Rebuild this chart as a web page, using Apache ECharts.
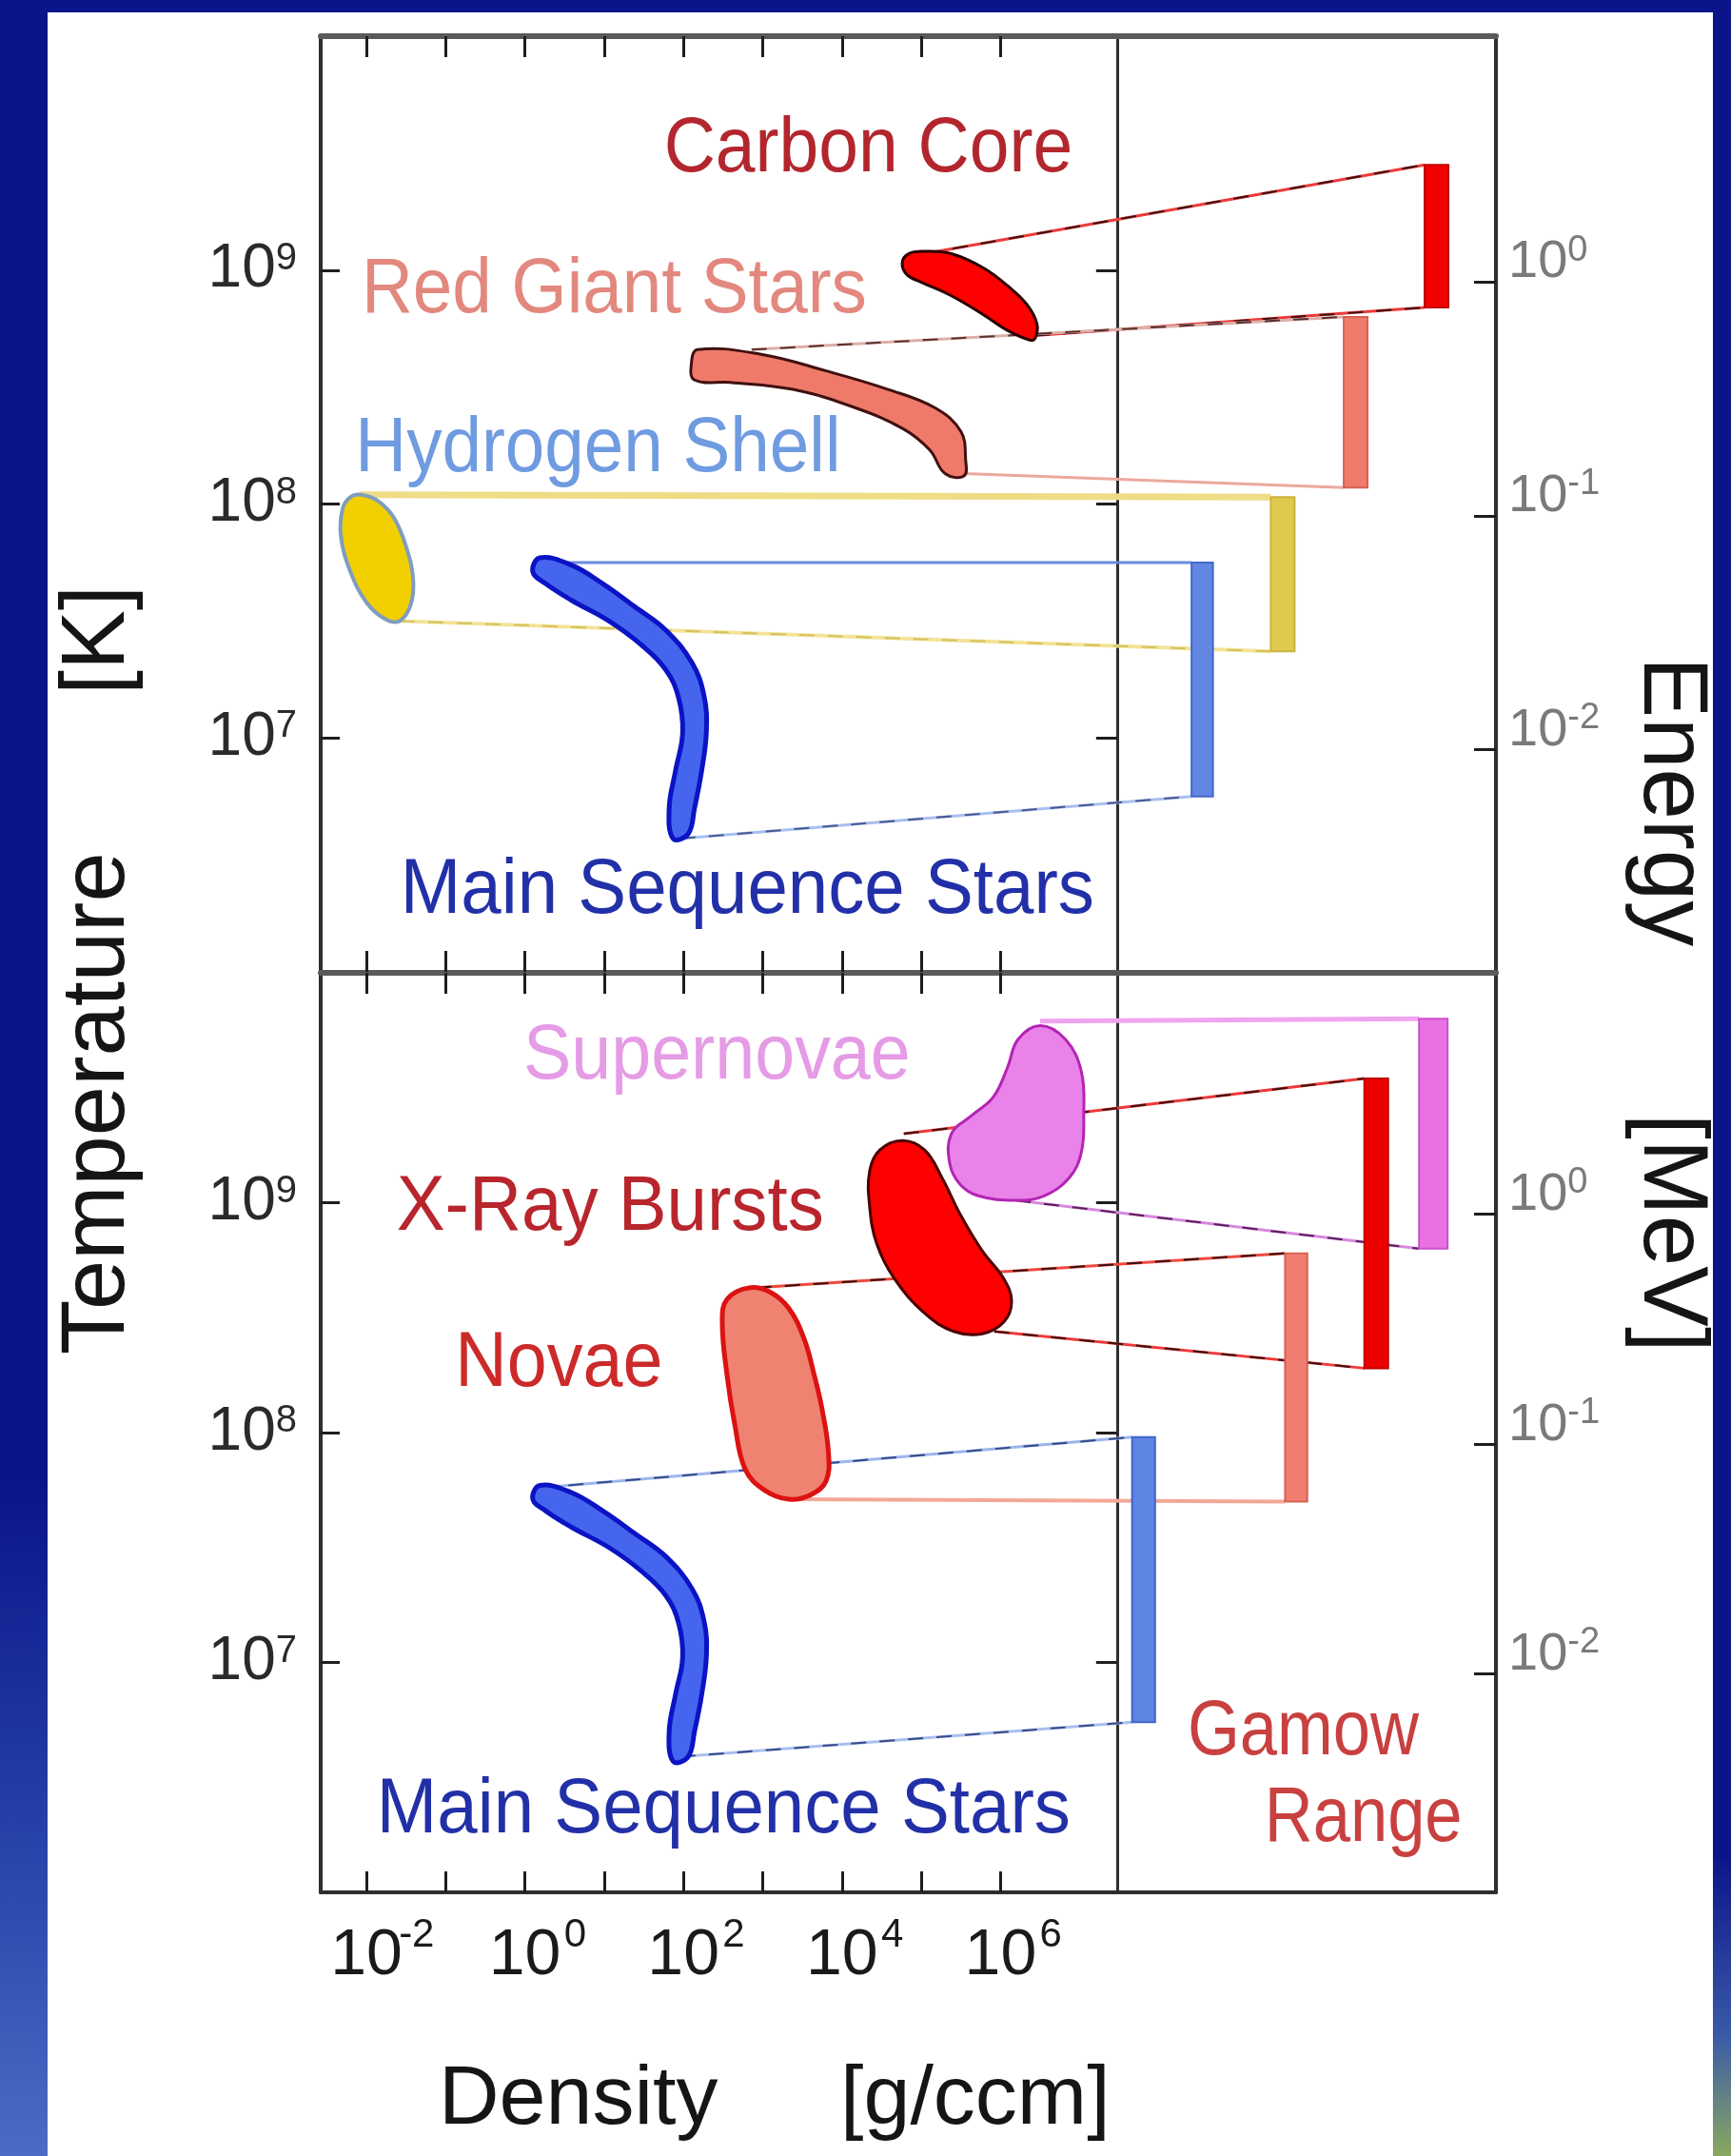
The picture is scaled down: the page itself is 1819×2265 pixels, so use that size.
<!DOCTYPE html>
<html>
<head>
<meta charset="utf-8">
<title>Stellar burning regimes and Gamow ranges</title>
<script src="https://cdn.jsdelivr.net/npm/echarts@6.0.0/dist/echarts.min.js"></script>
<style>
  html, body { margin: 0; padding: 0; background: #0b1589; }
  #chart { width: 1819px; height: 2265px; }
</style>
</head>
<body>
<div id="chart"></div>
<script>
// ---------- axes (every value is log10) ----------
const densityTicks = [-2, -1, 0, 1, 2, 3, 4, 5, 6];          // g/ccm
const densityTickLabels = [-2, 0, 2, 4, 6];
const temperatureTicks = [7, 8, 9];                          // K
const energyTicks = [-2, -1, 0];                             // MeV
const densityRange = [-2.576, 12.25];
const temperatureRange = [6, 10];
const energyRange = [-2.95, 1.05];
const gamowPanelStart = 7.47;                                // density value where the Gamow panel begins

// ---------- burning regions: [log density, log temperature] ----------
const carbonCore = [[4.76,9.03],[4.84,9.07],[5.06,9.08],[5.38,9.07],[5.78,9.01],[6.10,8.93],[6.34,8.85],[6.46,8.77],[6.44,8.71],[6.38,8.70],[6.10,8.74],[5.78,8.81],[5.38,8.89],[4.99,8.95],[4.82,8.98]];
const redGiantStars = [[2.18,8.66],[2.98,8.64],[3.79,8.57],[4.58,8.49],[5.18,8.41],[5.50,8.31],[5.56,8.19],[5.54,8.12],[5.30,8.13],[5.11,8.23],[4.78,8.32],[4.18,8.41],[3.38,8.49],[2.59,8.52],[2.14,8.53],[2.10,8.60]];
const hydrogenShell = [[-2.06,8.04],[-1.84,8.01],[-1.65,7.94],[-1.50,7.82],[-1.41,7.68],[-1.44,7.57],[-1.58,7.50],[-1.77,7.51],[-2.00,7.58],[-2.20,7.71],[-2.32,7.86],[-2.30,7.98],[-2.20,8.03]];
const mainSequenceStars = [[0.19,7.77],[0.58,7.74],[0.98,7.66],[1.39,7.56],[1.78,7.46],[2.11,7.32],[2.26,7.18],[2.29,7.03],[2.23,6.86],[2.14,6.70],[2.06,6.59],[1.87,6.57],[1.82,6.70],[1.90,6.86],[1.99,7.02],[1.94,7.17],[1.78,7.29],[1.46,7.40],[1.06,7.50],[0.58,7.59],[0.26,7.66],[0.10,7.71]];
const supernovae = [[6.50,9.77],[6.82,9.71],[7.02,9.57],[7.05,9.38],[7.02,9.22],[6.87,9.11],[6.55,9.03],[6.19,9.01],[5.72,9.03],[5.49,9.08],[5.36,9.17],[5.38,9.30],[5.64,9.38],[5.91,9.46],[6.09,9.59],[6.22,9.71]];
const xRayBursts = [[4.76,9.27],[5.04,9.23],[5.26,9.11],[5.49,8.95],[5.77,8.79],[6.04,8.67],[6.14,8.57],[6.04,8.48],[5.77,8.43],[5.41,8.44],[5.04,8.52],[4.66,8.67],[4.44,8.82],[4.35,8.98],[4.35,9.14],[4.48,9.23]];
const novae = [[2.83,8.63],[3.10,8.61],[3.33,8.54],[3.52,8.41],[3.65,8.25],[3.75,8.10],[3.83,7.91],[3.80,7.79],[3.61,7.73],[3.33,7.71],[3.02,7.75],[2.78,7.84],[2.65,8.03],[2.55,8.25],[2.49,8.48],[2.55,8.58]];

// ---------- Gamow ranges: [column start, column end, log E low, log E high] ----------
const gamowCarbonCore = [11.35, 11.65, -0.11, 0.50];
const gamowRedGiant = [10.33, 10.63, -0.88, -0.15];
const gamowHydrogenShell = [9.41, 9.71, -1.58, -0.92];
const gamowMainSequenceUpper = [8.41, 8.68, -2.20, -1.20];
const gamowSupernovae = [11.28, 11.64, -0.15, 0.85];
const gamowXRayBursts = [10.59, 10.89, -0.67, 0.59];
const gamowNovae = [9.59, 9.87, -1.25, -0.17];
const gamowMainSequenceLower = [7.66, 7.95, -2.21, -0.97];

// ---------- guide lines: region points [upper, lower] joined to the top and bottom of each Gamow range ----------
const carbonCoreLinks = [[5.04, 9.07], [6.43, 8.72]];
const redGiantLinks = [[2.86, 8.66], [5.54, 8.13]];
const hydrogenShellLinks = [[-2.08, 8.04], [-1.58, 7.50]];
const mainSequenceUpperLinks = [[0.19, 7.75], [1.96, 6.57]];
const supernovaeLinks = [[6.50, 9.79], [6.19, 9.01]];
const xRayBurstLinks = [[4.78, 9.30], [5.92, 8.44]];
const novaeLinks = [[2.92, 8.63], [3.33, 7.71]];
const mainSequenceLowerLinks = [[0.19, 7.76], [1.96, 6.59]];

// ---------- annotations ----------
const upperNames = ['Carbon Core', 'Red Giant Stars', 'Hydrogen Shell', 'Main Sequence Stars'];
const upperNameAnchors = [[6.91, 9.40], [-2.06, 8.80], [-2.14, 8.12], [-1.57, 6.23]];
const lowerNames = ['Supernovae', 'X-Ray Bursts', 'Novae', 'Main Sequence Stars', 'Gamow', 'Range'];
const lowerNameAnchors = [[-0.02, 9.52], [-1.62, 8.86], [-0.88, 8.18], [-1.87, 6.24], [8.36, 6.58], [9.33, 6.20]];

// log T and log E share one vertical scale, shifted by a constant
const ENERGY_SHIFT = temperatureRange[0] - energyRange[0];

const FONT = '"Liberation Sans", Arial, Helvetica, sans-serif';

const grids = [
  { left: 337, top: 38, width: 1235, height: 983 },
  { left: 337, top: 1022, width: 1235, height: 966 }
];

const frameLine = { color: '#2e2e2e', width: 4 };
const tickLine = { color: '#1e1e1e', width: 3 };

// ---------- x axes: bottom + top edge of each panel ----------
const xAxes = [];
[0, 1].forEach(g => {
  ['bottom', 'top'].forEach(pos => {
    const labelled = g === 1 && pos === 'bottom';
    xAxes.push({
      type: 'value', gridIndex: g, position: pos,
      min: densityRange[0], max: densityRange[1],
      axisLine: { show: true, onZero: false, lineStyle: pos === 'top' ? { color: '#5a5a5a', width: 6 } : frameLine },
      axisTick: { show: true, inside: true, length: 22, customValues: densityTicks, lineStyle: tickLine },
      axisLabel: labelled ? {
        show: true, customValues: densityTickLabels, margin: 24,
        formatter: v => '{p|}{b|10}{s|' + v + '}',
        rich: {
          p: { width: 30 },
          b: { fontFamily: FONT, fontSize: 68, color: '#1a1a1a', lineHeight: 60, padding: [26, 0, 0, 0] },
          s: { fontFamily: FONT, fontSize: 42, color: '#1a1a1a', lineHeight: 40, verticalAlign: 'top', width: 30, align: 'left' }
        }
      } : { show: false },
      splitLine: { show: false }
    });
  });
});

// ---------- y axes: temperature (left), energy (right), density/Gamow divider ----------
const dividerOffset = grids[0].width * (densityRange[1] - gamowPanelStart) / (densityRange[1] - densityRange[0]);
const yAxes = [];
[0, 1].forEach(g => {
  yAxes.push({
    type: 'value', gridIndex: g, position: 'left',
    min: temperatureRange[0], max: temperatureRange[1],
    axisLine: { show: true, onZero: false, lineStyle: frameLine },
    axisTick: { show: true, inside: true, length: 20, customValues: temperatureTicks, lineStyle: tickLine },
    axisLabel: {
      show: true, customValues: temperatureTicks, margin: 25,
      formatter: v => '{b|10}{s|' + v + '}',
      rich: {
        b: { fontFamily: FONT, fontSize: 64, color: '#2a2a2a', lineHeight: 64, padding: [18, 0, 18, 0] },
        s: { fontFamily: FONT, fontSize: 40, color: '#2a2a2a', lineHeight: 40, verticalAlign: 'top' }
      }
    },
    splitLine: { show: false }
  });
  yAxes.push({
    type: 'value', gridIndex: g, position: 'right',
    min: energyRange[0], max: energyRange[1],
    axisLine: { show: true, onZero: false, lineStyle: frameLine },
    axisTick: { show: true, inside: true, length: 23, customValues: energyTicks, lineStyle: tickLine },
    axisLabel: {
      show: true, customValues: energyTicks, margin: 13, padding: [0, 0, 40, 0],
      formatter: v => '{b|10}{s|' + v + '}',
      rich: {
        b: { fontFamily: FONT, fontSize: 56, color: '#7a7a7a', lineHeight: 64, padding: [18, 0, 18, 0] },
        s: { fontFamily: FONT, fontSize: 38, color: '#7a7a7a', lineHeight: 40, verticalAlign: 'top' }
      }
    },
    splitLine: { show: false }
  });
  yAxes.push({
    type: 'value', gridIndex: g, position: 'right', offset: -dividerOffset,
    min: temperatureRange[0], max: temperatureRange[1],
    axisLine: { show: true, onZero: false, lineStyle: { color: '#2e2e2e', width: 3 } },
    axisTick: { show: true, inside: true, length: 22, customValues: temperatureTicks, lineStyle: tickLine },
    axisLabel: { show: false },
    splitLine: { show: false }
  });
});

// ---------- series builders ----------
function regionSeries(points, g, fill, stroke, lineWidth) {
  return {
    type: 'custom', xAxisIndex: g * 2, yAxisIndex: g * 3, data: points, silent: true, clip: false, z: 4,
    renderItem(params, api) {
      if (params.dataIndex !== 0) return null;
      const pts = points.map(p => api.coord(p));
      return { type: 'polygon', shape: { points: pts, smooth: 0.4 }, style: { fill, stroke, lineWidth } };
    }
  };
}

function gamowSeries(range, g, fill, edge) {
  return {
    type: 'custom', xAxisIndex: g * 2, yAxisIndex: g * 3 + 1, data: [range], silent: true, clip: false, z: 3,
    encode: { x: [0, 1], y: [2, 3] },
    renderItem(params, api) {
      const a = api.coord([api.value(0), api.value(3)]);
      const b = api.coord([api.value(1), api.value(2)]);
      return {
        type: 'rect',
        shape: { x: a[0], y: a[1], width: b[0] - a[0], height: b[1] - a[1] },
        style: { fill, stroke: edge, lineWidth: 2 }
      };
    }
  };
}

// each link style: [base colour, base width, dash colour or null]
function linkSeries(starts, range, g, styles) {
  const rows = starts.map((s, i) => [s[0], s[1], range[0], i === 0 ? range[3] : range[2]]);
  return {
    type: 'custom', xAxisIndex: g * 2, yAxisIndex: g * 3, data: rows, silent: true, clip: false, z: 2,
    encode: { x: [0, 2], y: [1] },
    renderItem(params, api) {
      const a = api.coord([api.value(0), api.value(1)]);
      const b = api.coord([api.value(2), api.value(3) + ENERGY_SHIFT]);
      const st = styles[params.dataIndex];
      const children = [{
        type: 'line', shape: { x1: a[0], y1: a[1], x2: b[0], y2: b[1] },
        style: { stroke: st[0], lineWidth: st[1] }
      }];
      if (st[2]) {
        children.push({
          type: 'line', shape: { x1: a[0], y1: a[1], x2: b[0], y2: b[1] },
          style: { stroke: st[2], lineWidth: 2, lineDash: [16, 14] }
        });
      }
      return { type: 'group', children };
    }
  };
}

// each label style: [colour, align, horizontal scale]
function nameSeries(names, anchors, g, styles, fontSize) {
  return {
    type: 'custom', xAxisIndex: g * 2, yAxisIndex: g * 3, data: anchors, silent: true, clip: false, z: 6,
    renderItem(params, api) {
      const p = api.coord([api.value(0), api.value(1)]);
      const st = styles[params.dataIndex];
      return {
        type: 'text', x: p[0], y: p[1] - 0.34 * fontSize, scaleX: st[2],
        style: {
          text: names[params.dataIndex], fill: st[0], align: st[1], verticalAlign: 'middle',
          font: fontSize + 'px ' + FONT
        }
      };
    }
  };
}

const series = [
  // upper panel
  linkSeries(carbonCoreLinks, gamowCarbonCore, 0, [['#ee3a3a', 3, '#3a1010'], ['#ee3a3a', 3, '#3a1010']]),
  linkSeries(redGiantLinks, gamowRedGiant, 0, [['#dcb0a8', 3, '#5a3030'], ['#eca89e', 3, null]]),
  linkSeries(hydrogenShellLinks, gamowHydrogenShell, 0, [['#efdc84', 7, null], ['#f2e498', 4, '#d8c060']]),
  linkSeries(mainSequenceUpperLinks, gamowMainSequenceUpper, 0, [['#6a8ce0', 3, null], ['#a8c0ee', 3, '#4a5a90']]),
  gamowSeries(gamowCarbonCore, 0, '#f20000', '#c00000'),
  gamowSeries(gamowRedGiant, 0, '#ee7b6c', '#d86050'),
  gamowSeries(gamowHydrogenShell, 0, '#e0c94e', '#cbb43c'),
  gamowSeries(gamowMainSequenceUpper, 0, '#6386e2', '#4468cc'),
  regionSeries(carbonCore, 0, '#ff0000', '#2a0000', 3),
  regionSeries(redGiantStars, 0, '#f07a6a', '#401010', 3),
  regionSeries(hydrogenShell, 0, '#f2d000', '#7f9dbe', 4),
  regionSeries(mainSequenceStars, 0, '#4565ee', '#0a14c4', 5),
  nameSeries(upperNames, upperNameAnchors, 0, [
    ['#b3262e', 'right', 0.915], ['#e3887e', 'left', 0.91], ['#6f9be0', 'left', 0.91], ['#2230a8', 'left', 0.93]
  ], 82),
  // lower panel
  linkSeries(supernovaeLinks, gamowSupernovae, 1, [['#f0a4f0', 5, null], ['#d888de', 3, '#5a205a']]),
  linkSeries(xRayBurstLinks, gamowXRayBursts, 1, [['#ee3a3a', 3, '#3a1010'], ['#ee3a3a', 3, '#3a1010']]),
  linkSeries(novaeLinks, gamowNovae, 1, [['#ee4a40', 3, '#3a1010'], ['#f2a898', 4, null]]),
  linkSeries(mainSequenceLowerLinks, gamowMainSequenceLower, 1, [['#9cb6ec', 3, '#3a4a88'], ['#a8c0ee', 3, '#3a4a88']]),
  gamowSeries(gamowSupernovae, 1, '#e872e2', '#cc50c8'),
  gamowSeries(gamowXRayBursts, 1, '#ec0000', '#c00000'),
  gamowSeries(gamowNovae, 1, '#ef7e70', '#d86050'),
  gamowSeries(gamowMainSequenceLower, 1, '#5e84e4', '#4066cc'),
  regionSeries(supernovae, 1, '#e982e9', '#b424b4', 3),
  regionSeries(xRayBursts, 1, '#ff0000', '#4a0000', 3),
  regionSeries(novae, 1, '#f08272', '#dc1212', 5),
  regionSeries(mainSequenceStars, 1, '#4565ee', '#0a14c4', 5),
  nameSeries(lowerNames, lowerNameAnchors, 1, [
    ['#e59be5', 'left', 0.92], ['#b8252c', 'left', 0.93], ['#cc2a2a', 'left', 0.92],
    ['#2230a8', 'left', 0.93], ['#c8403f', 'left', 0.86], ['#c8403f', 'left', 0.86]
  ], 82)
];

// ---------- axis titles and page frame ----------
const titleStyle = (text, size) => ({ text, fill: '#151515', font: size + 'px ' + FONT, align: 'left', verticalAlign: 'middle' });
const graphic = [
  { type: 'rect', z: -10, left: 0, top: 1560, shape: { width: 50, height: 705 },
    style: { fill: new echarts.graphic.LinearGradient(0, 0, 0, 1, [
      { offset: 0, color: '#0b1589' }, { offset: 0.5, color: '#2440a8' }, { offset: 1, color: '#4a6cc4' }]) } },
  { type: 'rect', z: -10, left: 1800, top: 1950, shape: { width: 19, height: 315 },
    style: { fill: new echarts.graphic.LinearGradient(0, 0, 0, 1, [
      { offset: 0, color: '#0b1589' }, { offset: 0.6, color: '#3a5aa8' }, { offset: 1, color: '#8aa860' }]) } },
  { type: 'rect', z: -9, x: 50, y: 13, shape: { width: 1750, height: 2252 }, style: { fill: '#ffffff' } },
  { type: 'text', z: 10, x: 461, y: 2207, style: titleStyle('Density', 88) },
  { type: 'text', z: 10, x: 883, y: 2207, style: titleStyle('[g/ccm]', 88) },
  { type: 'text', z: 10, x: 104, y: 1423, rotation: Math.PI / 2, style: titleStyle('Temperature', 94) },
  { type: 'text', z: 10, x: 104, y: 730, rotation: Math.PI / 2, style: titleStyle('[K]', 94) },
  { type: 'text', z: 10, x: 1754, y: 690, rotation: -Math.PI / 2, style: titleStyle('Energy', 96) },
  { type: 'text', z: 10, x: 1754, y: 1170, rotation: -Math.PI / 2, style: titleStyle('[MeV]', 96) }
];

const chart = echarts.init(document.getElementById('chart'), null, { renderer: 'canvas' });
chart.setOption({
  backgroundColor: '#0b1589',
  animation: false,
  textStyle: { fontFamily: FONT },
  grid: grids,
  xAxis: xAxes,
  yAxis: yAxes,
  graphic,
  series
});
</script>
</body>
</html>
